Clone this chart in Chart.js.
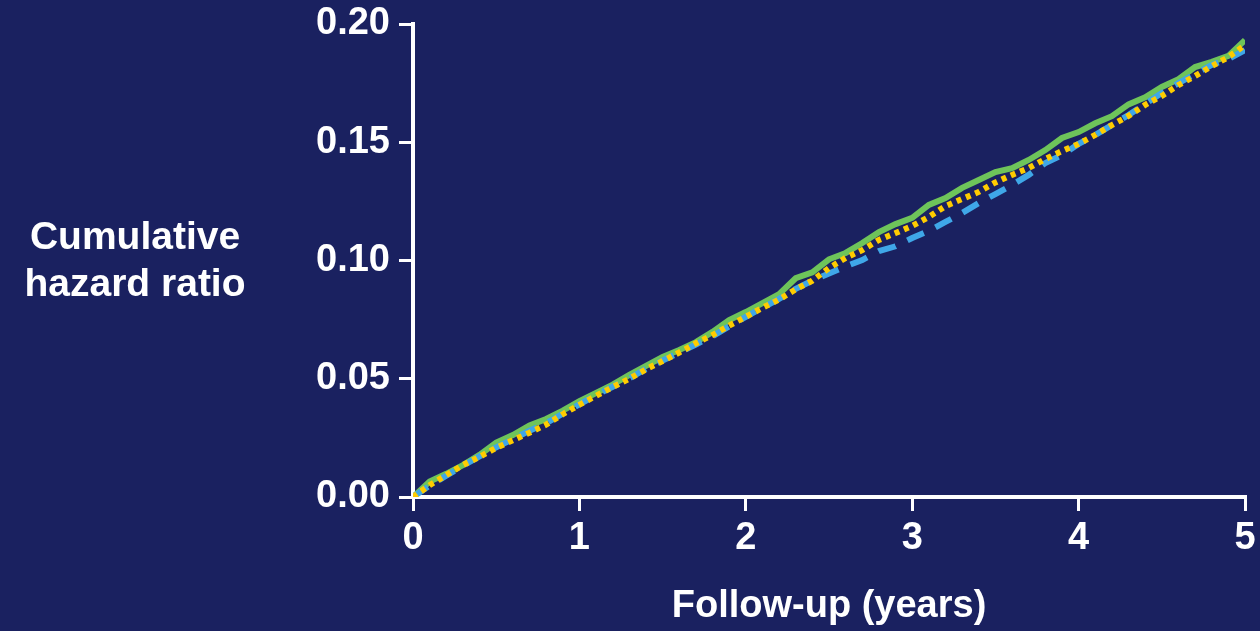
<!DOCTYPE html>
<html>
<head>
<meta charset="utf-8">
<script src="https://cdn.jsdelivr.net/npm/chart.js@4"></script>
<style>
  html, body { margin: 0; padding: 0; background: #1a2160; }
  #wrap { width: 1260px; height: 631px; position: relative; }
</style>
</head>
<body>
<div id="wrap"><canvas id="myChart"></canvas></div>
<script>
// follow-up time (years)
const years = [0, 0.1, 0.2, 0.3, 0.4, 0.5, 0.6, 0.7, 0.8, 0.9,
  1.0, 1.1, 1.2, 1.3, 1.4, 1.5, 1.6, 1.7, 1.8, 1.9,
  2.0, 2.1, 2.2, 2.3, 2.4, 2.5, 2.6, 2.7, 2.8, 2.9,
  3.0, 3.1, 3.2, 3.3, 3.4, 3.5, 3.6, 3.7, 3.8, 3.9,
  4.0, 4.1, 4.2, 4.3, 4.4, 4.5, 4.6, 4.7, 4.8, 4.9, 5.0];

// solid green curve
const greenLine = [0, 0.0065, 0.0098, 0.0135, 0.0178, 0.0230, 0.0262, 0.0302, 0.0330, 0.0365,
  0.0405, 0.0440, 0.0475, 0.0516, 0.0554, 0.0592, 0.0622, 0.0655, 0.0698, 0.0748,
  0.0782, 0.0820, 0.0858, 0.0925, 0.0950, 0.1005, 0.1032, 0.1074, 0.1120, 0.1154,
  0.1180, 0.1235, 0.1264, 0.1307, 0.1340, 0.1374, 0.1390, 0.1425, 0.1467, 0.1518,
  0.1543, 0.1580, 0.1610, 0.1660, 0.1690, 0.1734, 0.1767, 0.1818, 0.1840, 0.1865, 0.1932];

// dashed blue curve
const blueLine = [0, 0.0048, 0.0090, 0.0132, 0.0172, 0.0210, 0.0245, 0.0280, 0.0312, 0.0352,
  0.0392, 0.0430, 0.0466, 0.0502, 0.0542, 0.0577, 0.0610, 0.0645, 0.0680, 0.0722,
  0.0762, 0.0800, 0.0838, 0.0880, 0.0915, 0.0945, 0.0975, 0.1002, 0.1040, 0.1060,
  0.1095, 0.1125, 0.1163, 0.1201, 0.1243, 0.1281, 0.1319, 0.1362, 0.1412, 0.1446,
  0.1493, 0.1531, 0.1573, 0.1615, 0.1662, 0.1708, 0.1750, 0.1789, 0.1827, 0.1852, 0.1890];

// dotted yellow curve
const yellowLine = [0, 0.0050, 0.0093, 0.0135, 0.0170, 0.0208, 0.0240, 0.0272, 0.0306, 0.0350,
  0.0390, 0.0428, 0.0465, 0.0500, 0.0540, 0.0575, 0.0611, 0.0650, 0.0685, 0.0725,
  0.0762, 0.0800, 0.0835, 0.0878, 0.0915, 0.0968, 0.1011, 0.1044, 0.1087, 0.1116,
  0.1146, 0.1184, 0.1230, 0.1260, 0.1290, 0.1330, 0.1362, 0.1391, 0.1429, 0.1463,
  0.1493, 0.1531, 0.1573, 0.1611, 0.1658, 0.1696, 0.1742, 0.1780, 0.1822, 0.1860, 0.1911];

const yTitle = ['Cumulative', 'hazard ratio'];
const xTitle = 'Follow-up (years)';

const bg = '#1a2160';
const fontFamily = '"Liberation Sans", Arial, sans-serif';

function pts(ys) {
  return years.map((x, i) => ({ x: x, y: ys[i] }));
}

const background = {
  id: 'background',
  beforeDraw(chart) {
    const c = chart.ctx;
    c.save();
    c.fillStyle = bg;
    c.fillRect(0, 0, chart.width, chart.height);
    c.restore();
  }
};

// y title is horizontal, on two lines, left of the tick labels
const sideTitle = {
  id: 'sideTitle',
  afterDraw(chart) {
    const c = chart.ctx;
    c.save();
    c.fillStyle = '#ffffff';
    c.font = 'bold 39px ' + fontFamily;
    c.textAlign = 'center';
    c.textBaseline = 'alphabetic';
    c.fillText(yTitle[0], 135, 249);
    c.fillText(yTitle[1], 135, 296);
    c.restore();
  }
};

const ctx = document.getElementById('myChart');

new Chart(ctx, {
  type: 'line',
  data: {
    datasets: [
      {
        label: 'yellow',
        data: pts(yellowLine),
        borderColor: '#ffcc00',
        borderWidth: 6,
        borderDash: [5, 5],
        borderCapStyle: 'butt',
        pointRadius: 0,
        order: 0,
      },
      {
        label: 'blue',
        data: pts(blueLine),
        borderColor: '#3fa7e8',
        borderWidth: 6,
        borderDash: [18, 13],
        borderCapStyle: 'butt',
        pointRadius: 0,
        order: 1,
      },
      {
        label: 'green',
        data: pts(greenLine),
        borderColor: '#6ec45a',
        borderWidth: 6,
        pointRadius: 0,
        order: 2,
      },
    ],
  },
  options: {
    responsive: true,
    maintainAspectRatio: false,
    animation: false,
    layout: { padding: { top: 24, right: 15, left: 0, bottom: 0 } },
    plugins: {
      legend: { display: false },
      tooltip: { enabled: false },
    },
    scales: {
      x: {
        type: 'linear',
        min: 0,
        max: 5,
        border: { color: '#ffffff', width: 4 },
        grid: {
          drawOnChartArea: false,
          drawTicks: true,
          tickLength: 14,
          tickColor: '#ffffff',
          lineWidth: 3,
        },
        ticks: {
          stepSize: 1,
          color: '#ffffff',
          padding: 5,
          maxRotation: 0,
          font: { family: fontFamily, size: 38, weight: 'bold' },
        },
        title: {
          display: true,
          text: xTitle,
          color: '#ffffff',
          padding: { top: 0, bottom: 2 },
          font: { family: fontFamily, size: 38, weight: 'bold' },
        },
        afterFit(scale) {
          scale.height = 134;
          scale.paddingLeft = 0;
          scale.paddingRight = 0;
        },
      },
      y: {
        min: 0,
        max: 0.2,
        border: { color: '#ffffff', width: 4 },
        grid: {
          drawOnChartArea: false,
          drawTicks: true,
          tickLength: 14,
          tickColor: '#ffffff',
          lineWidth: 3,
        },
        ticks: {
          stepSize: 0.05,
          color: '#ffffff',
          padding: 9,
          font: { family: fontFamily, size: 38, weight: 'bold' },
          callback: (v) => v.toFixed(2),
        },
        afterFit(scale) {
          scale.width = 413;
          scale.paddingTop = 0;
          scale.paddingBottom = 0;
        },
      },
    },
  },
  plugins: [background, sideTitle],
});
</script>
</body>
</html>
